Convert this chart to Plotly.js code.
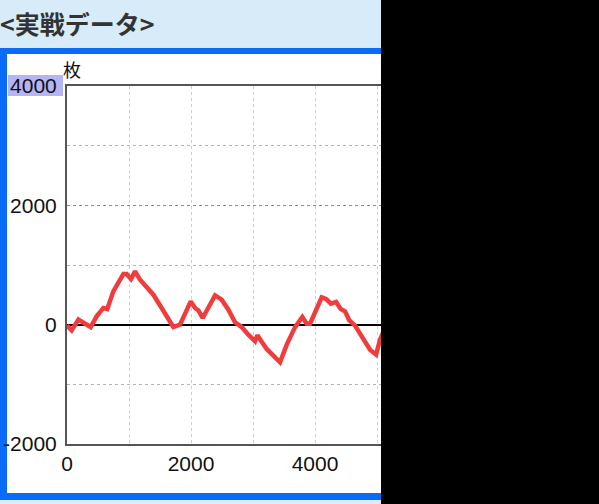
<!DOCTYPE html>
<html><head><meta charset="utf-8">
<script src="https://cdn.plot.ly/plotly-3.0.1.min.js"></script>
<style>
html,body{margin:0;padding:0;width:599px;height:504px;overflow:hidden;background:#d7ebf8;}
.abs{position:absolute;}
</style></head>
<body>
<div class="abs" style="left:0;top:0;width:599px;height:48px;background:#d7ebf8;"></div>
<div class="abs" style="left:0;top:48px;width:599px;height:452px;background:#0a6cf6;"></div>
<div class="abs" style="left:7px;top:54px;width:592px;height:439px;background:#ffffff;"></div>
<div id="chart" class="abs" style="left:0;top:0;width:599px;height:504px;"></div>
<div class="abs" style="left:381px;top:0;width:218px;height:504px;background:#000;z-index:10;"></div>
<script>
// Data (games played vs. medal difference)
var games = [0,75,183,290,382,478,586,650,747,909,962,1032,1097,1178,1285,1393,1527,1635,1715,1823,1904,1995,2065,2118,2188,2280,2388,2495,2603,2710,2818,2925,3033,3070,3140,3221,3328,3436,3544,3678,3796,3866,3920,4017,4108,4178,4259,4340,4415,4485,4554,4646,4780,4888,4985,5049,5110];
var medals = [-15,-95,84,17,-40,140,280,262,558,848,848,765,893,753,614,502,279,84,-40,0,167,390,279,240,112,279,491,419,251,39,-40,-167,-279,-179,-279,-407,-519,-631,-335,-40,128,17,17,262,457,430,352,380,262,223,72,-17,-240,-419,-502,-251,-100];
var yTicks = [-2000,0,2000,4000];
var yTickText = ['-2000','0','2000','4000'];
var xTicks = [0,2000,4000,6000];
var xTickText = ['0','2000','4000','6000'];
var titleText = '<実戦データ>';
var unitText = '枚';

var W=599,H=504,L=67,R=599-439,T=86,B=504-444;
var pw=W-L-R, ph=H-T-B;
function px(x){return (x-L)/pw;}
function py(y){return (H-B-y)/ph;}

var font = {family:'Liberation Sans, Arial, sans-serif', size:21, color:'#111'};
var layout = {
  width:W, height:H,
  margin:{l:L,r:R,t:T,b:B,pad:0},
  paper_bgcolor:'rgba(0,0,0,0)',
  plot_bgcolor:'#ffffff',
  showlegend:false,
  title:{text:'<b>'+titleText.replace('<','&lt;').replace('>','&gt;')+'</b>', xref:'container', yref:'container', x:0, xanchor:'left', y:1-25/504, yanchor:'middle',
    font:{family:'Noto Sans CJK JP, sans-serif', size:25, color:'#333333'}},
  xaxis:{range:[0,6000], tickvals:xTicks, ticktext:xTickText, ticks:'', tickfont:font,
    showline:true, linecolor:'#555', linewidth:2, mirror:true,
    showgrid:true, gridcolor:'#cfcfcf', griddash:'dot', gridwidth:1, zeroline:false,
    minor:{dtick:1000, tick0:0, showgrid:true, gridcolor:'#cfcfcf', griddash:'dot', gridwidth:1},
    fixedrange:true},
  yaxis:{range:[-2000,4000], tickvals:yTicks, ticktext:yTickText, ticks:'', tickfont:font, ticklabelstandoff:4,
    showline:true, linecolor:'#555', linewidth:2, mirror:true,
    showgrid:true, gridcolor:'#8a8a8a', griddash:'dot', gridwidth:1,
    zeroline:true, zerolinecolor:'#000', zerolinewidth:2,
    minor:{dtick:1000, tick0:0, showgrid:true, gridcolor:'#b5b5b5', griddash:'dot', gridwidth:1},
    fixedrange:true},
  shapes:[
    {type:'rect', xref:'paper', yref:'paper', x0:px(8), x1:px(63), y0:py(96), y1:py(75), fillcolor:'#b4b4f6', line:{width:0}, layer:'below'}
  ],
  annotations:[
    {text:unitText, xref:'paper', yref:'paper', x:px(61), y:py(69), xanchor:'left', yanchor:'middle', showarrow:false,
     font:{family:'Noto Sans CJK JP, sans-serif', size:18, color:'#111'}}
  ]
};
var trace = {x:games, y:medals, type:'scatter', mode:'lines', line:{color:'#f03c3c', width:4.5, shape:'linear'}, hoverinfo:'none'};
Plotly.newPlot('chart',[trace],layout,{displayModeBar:false, staticPlot:true});
</script>
</body></html>
